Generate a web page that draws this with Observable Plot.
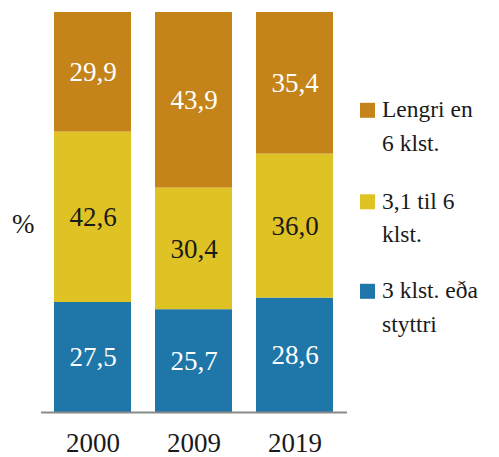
<!DOCTYPE html>
<html><head><meta charset="utf-8">
<script src="https://cdn.jsdelivr.net/npm/d3@7"></script>
<script src="https://cdn.jsdelivr.net/npm/@observablehq/plot@0.6"></script>
</head><body style="margin:0;background:#fff"><div id="chart"></div>
<script>
const years = ["2000", "2009", "2019"];
const categories = ["3 klst. eða styttri", "3,1 til 6 klst.", "Lengri en 6 klst."];
const shortVals = [27.5, 25.7, 28.6];
const midVals = [42.6, 30.4, 36.0];
const longVals = [29.9, 43.9, 35.4];
const legendLines = [["Lengri en", "6 klst."], ["3,1 til 6", "klst."], ["3 klst. eða", "styttri"]];
const legendCats = ["Lengri en 6 klst.", "3,1 til 6 klst.", "3 klst. eða styttri"];
const colors = ["#1F76A8", "#DFC224", "#C4841A"];
const unitLabel = "%";

const FONT = "Liberation Serif";
const series = [shortVals, midVals, longVals];
const data = years.flatMap((y, i) => categories.map((c, j) => ({year: y, cat: c, value: series[j][i]})));
const fmt = v => v.toFixed(1).replace(".", ",");
const darkCat = categories[1];

const svg = Plot.plot({
  width: 499, height: 457,
  marginTop: 12, marginBottom: 45, marginLeft: 41, marginRight: 152,
  style: {fontFamily: FONT},
  x: {domain: years, paddingInner: 0.235, paddingOuter: 0.118, label: null},
  y: {domain: [0, 100], axis: null},
  color: {domain: categories, range: colors},
  marks: [
    Plot.barY(data, Plot.stackY({x: "year", y: "value", fill: "cat", order: categories})),
    Plot.text(data, Plot.stackY({x: "year", y: "value", z: "cat", order: categories,
      text: d => d.cat === darkCat ? "" : fmt(d.value), fill: "white", fontSize: 27, fontFamily: FONT})),
    Plot.text(data, Plot.stackY({x: "year", y: "value", z: "cat", order: categories,
      text: d => d.cat === darkCat ? fmt(d.value) : "", fill: "#1a1a1a", fontSize: 27, fontFamily: FONT})),
    Plot.ruleY([0], {stroke: "#8a8a8a", strokeWidth: 2}),
    Plot.axisX({tickSize: 0, tickPadding: 20, fontSize: 27, fontFamily: FONT, fill: "#1a1a1a", label: null})
  ]
});

const s = d3.select(svg);
s.append("text").attr("x", 12).attr("y", 233).attr("text-anchor", "start")
  .attr("font-size", 27).attr("font-family", FONT).attr("fill", "#1a1a1a").text(unitLabel);

const baselines = [117.3, 208.8, 298.3];
legendCats.forEach((c, i) => {
  const col = colors[categories.indexOf(c)];
  s.append("rect").attr("x", 360).attr("y", baselines[i] - 14.5).attr("width", 15).attr("height", 15).attr("fill", col);
  const t = s.append("text").attr("x", 382).attr("y", baselines[i]).attr("text-anchor", "start")
    .attr("font-size", 23.5).attr("font-family", FONT).attr("fill", "#1a1a1a");
  legendLines[i].forEach((line, k) => {
    t.append("tspan").attr("x", 382).attr("y", baselines[i] + k * 33.4).text(line);
  });
});

document.getElementById("chart").append(svg);
</script>
</body></html>
